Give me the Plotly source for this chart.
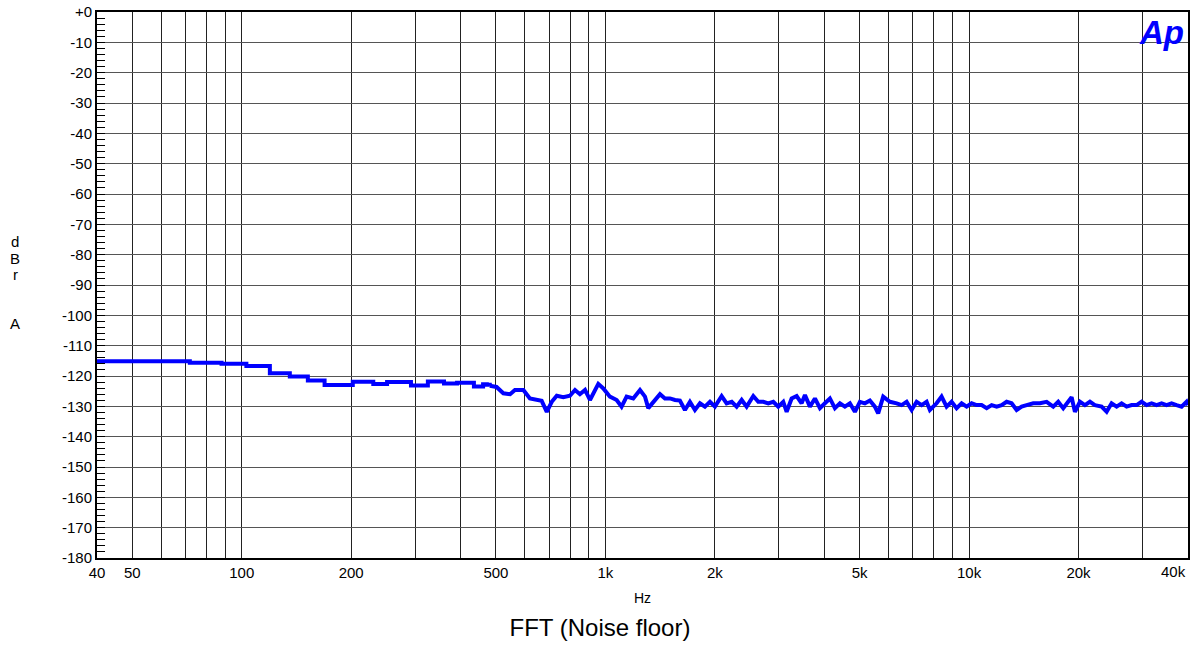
import numpy as np
import plotly.graph_objects as go

# low-frequency part of the FFT (coarse bins, drawn as steps)
low_freq = [40, 72, 88, 103, 119.5, 135.6, 152, 169, 202, 230, 251, 292,
            325, 360, 391, 435, 461, 472, 481]
low_db = [-115.1, -115.6, -116.0, -116.7, -119.1, -120.2, -121.5, -123.0,
          -121.9, -122.6, -122.0, -123.1, -121.8, -122.5, -122.2, -123.5,
          -122.7, -122.9, -123.2]

# upper part of the noise floor
hi_freq = [481, 502, 524, 547, 564, 595, 620, 647, 668, 690, 712, 735, 766,
           799, 825, 851, 879, 907, 956, 987, 1029, 1074, 1108, 1144, 1193,
           1245, 1285, 1312, 1369, 1413, 1458, 1505, 1554, 1603, 1655, 1708,
           1763, 1820, 1878, 1939, 2001, 2088, 2155, 2225, 2296, 2370, 2446,
           2551, 2633, 2718, 2805, 2895, 2988, 3084, 3151, 3252, 3357, 3464,
           3538, 3651, 3769, 3890, 4015, 4144, 4277, 4415, 4556, 4703, 4854,
           5010, 5171, 5337, 5508, 5625, 5807, 6060, 6323, 6525, 6735, 6951,
           7175, 7405, 7643, 7804, 8143, 8404, 8675, 8954, 9242, 9541, 9849,
           10165, 10491, 10829, 11178, 11537, 11908, 12291, 12686, 13095,
           13516, 13951, 14399, 15016, 15664, 16342, 17041, 17588, 18155,
           18739, 19144, 19549, 20180, 20828, 21499, 22188, 23149, 23895,
           24660, 25457, 26273, 27120, 27990, 28892, 29818, 30774, 31767,
           32785, 33842, 34927, 36053, 37209, 38409, 39638, 40000]
hi_db = [-123.2, -123.6, -125.7, -126.0, -124.6, -124.6, -127.4, -127.9,
         -128.2, -131.8, -128.5, -126.5, -127.0, -126.5, -124.6, -126.0,
         -124.6, -127.9, -122.6, -124.1, -126.8, -127.9, -130.1, -126.8,
         -127.4, -124.6, -126.8, -130.6, -127.9, -126.0, -127.4, -127.4,
         -127.9, -128.1, -131.2, -128.5, -131.2, -129.0, -130.1, -128.5,
         -130.1, -126.6, -129.0, -128.5, -130.1, -127.9, -130.1, -126.6,
         -128.5, -128.5, -129.0, -128.5, -130.1, -128.5, -131.8, -127.4,
         -126.6, -129.0, -126.3, -130.1, -127.4, -130.6, -129.0, -127.4,
         -130.6, -129.0, -130.1, -129.0, -131.8, -128.5, -129.0, -128.1,
         -130.1, -132.3, -126.8, -128.5, -129.0, -129.6, -128.5, -131.2,
         -128.5, -129.6, -128.5, -131.2, -129.0, -126.8, -130.1, -128.5,
         -130.6, -129.0, -130.1, -129.0, -129.6, -129.6, -130.6, -129.6,
         -130.1, -129.6, -128.5, -129.0, -131.2, -130.1, -129.6, -129.0,
         -129.0, -128.5, -130.1, -128.5, -130.6, -128.5, -127.0, -131.8,
         -128.5, -129.6, -128.5, -129.6, -130.1, -131.8, -129.0, -130.1,
         -129.0, -130.1, -129.6, -129.6, -128.5, -129.6, -129.0, -129.6,
         -129.0, -129.6, -129.0, -129.6, -130.1, -128.5, -129.6]

# axis ticks
grid_freqs = [40, 50, 60, 70, 80, 90, 100, 200, 300, 400, 500, 600, 700, 800,
              900, 1000, 2000, 3000, 4000, 5000, 6000, 7000, 8000, 9000,
              10000, 20000, 30000, 40000]
freq_labels = {40: "40", 50: "50", 100: "100", 200: "200", 500: "500",
               1000: "1k", 2000: "2k", 5000: "5k", 10000: "10k",
               20000: "20k"}
last_label = "40k"   # drawn separately, pulled inside the right edge
db_ticks = list(range(-180, 1, 10))
db_labels = [str(v) if v != 0 else "+0" for v in db_ticks]

FONT = "Liberation Sans, Arial, sans-serif"
BLUE = "#0000ff"
W, H = 1195, 648

fig = go.Figure()
fig.add_trace(go.Scatter(x=low_freq, y=low_db, mode='lines',
                         line=dict(color=BLUE, width=4, shape='hv'),
                         showlegend=False, hoverinfo='skip'))
fig.add_trace(go.Scatter(x=hi_freq, y=hi_db, mode='lines',
                         line=dict(color=BLUE, width=4),
                         showlegend=False, hoverinfo='skip'))

fig.update_layout(
    width=W, height=H,
    margin=dict(l=97, r=7, t=12, b=90, autoexpand=False),
    plot_bgcolor='white', paper_bgcolor='white',
    font=dict(family=FONT, size=15, color='black'),
    title=dict(text="FFT (Noise floor)", x=600 / W, xanchor='center',
               y=1 - 628 / H, yanchor='middle', yref='container',
               font=dict(family=FONT, size=24, color='black')),
)

fig.update_xaxes(
    type='log', range=[np.log10(40) - 1e-5, np.log10(40000) + 1e-5],
    tickvals=grid_freqs,
    ticktext=[freq_labels.get(f, "") for f in grid_freqs],
    showgrid=True, gridcolor='#222222', gridwidth=1,
    showline=True, linecolor='black', linewidth=2, mirror=True,
    ticks='', tickfont=dict(family=FONT, size=15),
    zeroline=False, automargin=False,
)
fig.update_yaxes(
    range=[-180, 0], tickvals=db_ticks, ticktext=db_labels,
    showgrid=True, gridcolor='#555555', gridwidth=1,
    showline=True, linecolor='black', linewidth=2, mirror=True,
    ticks='inside', ticklen=8, tickcolor='black',
    minor=dict(ticks='inside', ticklen=8, dtick=2, tick0=0,
               tickcolor='black', showgrid=False),
    tickfont=dict(family=FONT, size=15), ticklabeloverflow='allow',
    zeroline=False, automargin=False,
)

# right-most x label, kept inside the page
fig.add_annotation(text=last_label, xref='x', yref='paper',
                   x=np.log10(40000), y=-0.0256, xanchor='right',
                   yanchor='middle', showarrow=False,
                   font=dict(family=FONT, size=15))

# x axis title
fig.add_annotation(text="Hz", xref='paper', yref='paper', x=0.5, y=-0.073,
                   showarrow=False, font=dict(family=FONT, size=14),
                   xanchor='center', yanchor='middle')

# stacked y axis title "dBr A"
for ch, py in zip(["d", "B", "r", "A"], [242, 258, 274, 323]):
    fig.add_annotation(text=ch, xref='paper', yref='paper',
                       x=(15 - 97) / 1091, y=(558 - py) / 546,
                       showarrow=False, font=dict(family=FONT, size=15),
                       xanchor='center', yanchor='middle')

# Ap logo
fig.add_annotation(text="<b><i>Ap</i></b>", xref='paper', yref='paper',
                   x=1, y=1, xanchor='right', yanchor='top', xshift=-2,
                   yshift=0, showarrow=False,
                   font=dict(family=FONT, size=33, color=BLUE))

# drop the default 8px body margin so the figure fills the window exactly
fig.write_html("out.html", config={'displayModeBar': False},
               post_script="document.body.style.margin='0px';")
